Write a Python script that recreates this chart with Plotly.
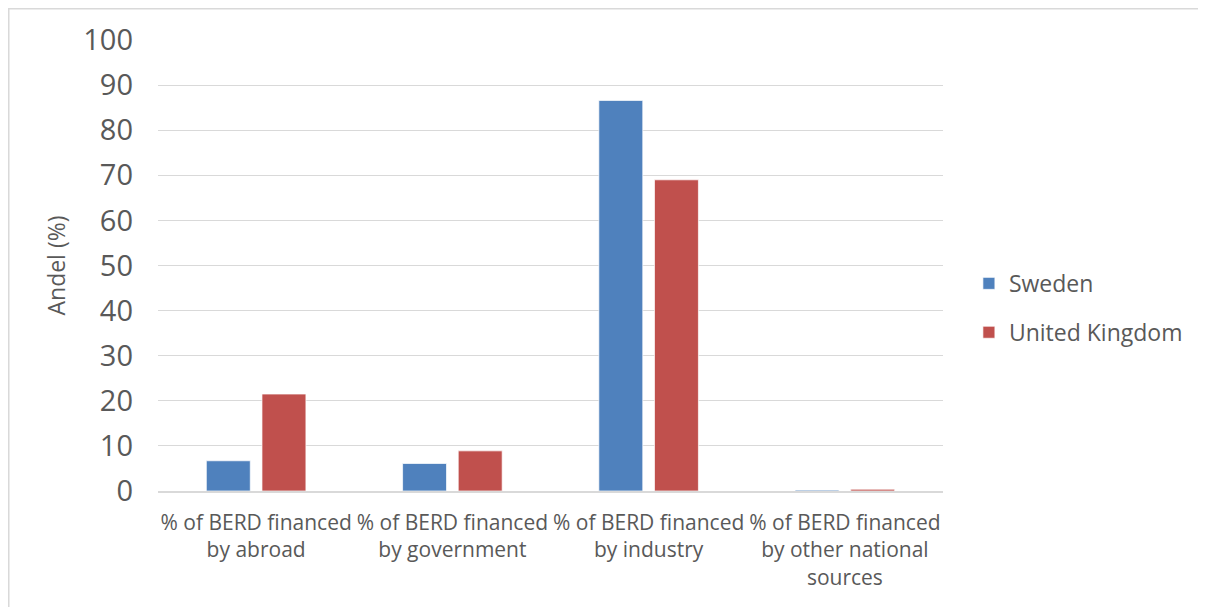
import plotly.graph_objects as go

categories = [
    "% of BERD financed<br>by abroad",
    "% of BERD financed<br>by government",
    "% of BERD financed<br>by industry",
    "% of BERD financed<br>by other national<br>sources",
]
sweden = [6.7, 6.1, 86.6, 0.2]
uk = [21.5, 8.9, 69.0, 0.4]
y_ticks = [0, 10, 20, 30, 40, 50, 60, 70, 80, 90, 100]

FONT = "Open Sans"
TXT = "#595959"
GRID = "#D9D9D9"

fig = go.Figure()
fig.add_trace(go.Bar(name="Sweden", x=categories, y=sweden,
                     marker=dict(color="#4F81BD", line=dict(color="rgba(255,255,255,0.7)", width=1)),
                     legendgroup="a"))
fig.add_trace(go.Bar(name="United Kingdom", x=categories, y=uk,
                     marker=dict(color="#C0504D", line=dict(color="rgba(255,255,255,0.7)", width=1)),
                     legendgroup="b"))

fig.update_layout(
    width=1198, height=599,
    margin=dict(l=150, r=263, t=32, b=116, autoexpand=False),
    paper_bgcolor="white", plot_bgcolor="white",
    barmode="group", bargap=0.433, bargroupgap=0.21,
    font=dict(family=FONT, color=TXT),
    legend=dict(x=1.033, xanchor="left", y=0.406, yanchor="middle",
                font=dict(size=23, color=TXT), tracegroupgap=16,
                bgcolor="rgba(0,0,0,0)"),
    xaxis=dict(showgrid=False, showline=True, linecolor=GRID, linewidth=1.5,
               tickfont=dict(size=21, color=TXT), ticks="", ticklabelstandoff=12,
               automargin=False),
    yaxis=dict(range=[0, 100], tickvals=y_ticks, showgrid=True, gridcolor=GRID,
               gridwidth=1.3, zeroline=False, showline=False, ticks="",
               tickfont=dict(size=29, color=TXT), ticklabelstandoff=24,
               title=dict(text="Andel (%)", font=dict(size=23, color=TXT), standoff=11),
               automargin=False),
    shapes=[dict(type="rect", xref="paper", yref="paper",
                 x0=-0.1901, x1=1.45, y0=-0.3, y1=1.0693,
                 line=dict(color=GRID, width=1.5), fillcolor="rgba(0,0,0,0)", layer="below")],
)

fig.write_html("out.html")
